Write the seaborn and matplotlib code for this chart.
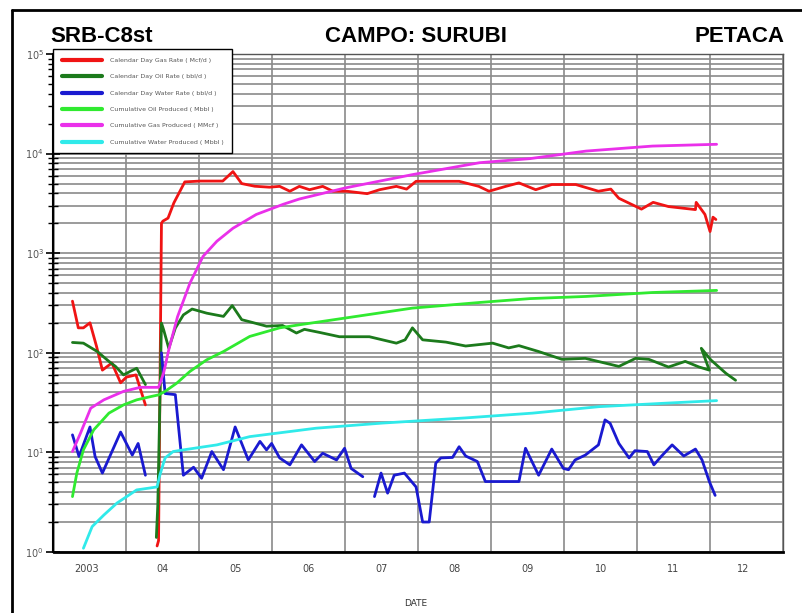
import numpy as np
import pandas as pd
import matplotlib
matplotlib.use("Agg")
import matplotlib.pyplot as plt
import seaborn as sns
from matplotlib.lines import Line2D
from matplotlib.ticker import LogLocator, NullFormatter, FixedLocator

# ---------------- data (decimal years, values) ----------------
year_ticks = list(range(2003, 2014))
year_label_pos = [2003.45, 2004.5, 2005.5, 2006.5, 2007.5, 2008.5, 2009.5, 2010.5, 2011.5, 2012.45]
year_labels = ["2003", "04", "05", "06", "07", "08", "09", "10", "11", "12"]

series_names = [
    "Calendar Day Gas Rate ( Mcf/d )",
    "Calendar Day Oil Rate ( bbl/d )",
    "Calendar Day Water Rate ( bbl/d )",
    "Cumulative Oil Produced ( Mbbl )",
    "Cumulative Gas Produced ( MMcf )",
    "Cumulative Water Produced ( Mbbl )",
]
series_colors = ["#f01414", "#1c7a1c", "#1a1ad0", "#30ea30", "#ea30ea", "#30eaea"]

# Calendar day gas rate
gas_t1 = [2003.26, 2003.34, 2003.41, 2003.50, 2003.59, 2003.67, 2003.80, 2003.92, 2004.00, 2004.13, 2004.26]
gas_v1 = [330, 178, 178, 200, 116, 67, 79, 50, 57, 60, 30]
gas_t2 = [2004.42, 2004.44, 2004.48, 2004.50, 2004.57, 2004.65, 2004.80, 2005.01, 2005.32, 2005.46,
          2005.58, 2005.76, 2005.96, 2006.10, 2006.24, 2006.37, 2006.51, 2006.69, 2006.83, 2007.02,
          2007.30, 2007.47, 2007.70, 2007.84, 2007.97, 2008.56, 2008.83, 2008.97, 2009.20, 2009.38,
          2009.61, 2009.83, 2010.16, 2010.47, 2010.64, 2010.75, 2011.06, 2011.22, 2011.43, 2011.80,
          2011.81, 2011.93, 2012.00, 2012.04, 2012.08]
gas_v2 = [1.15, 1.3, 2000, 2100, 2250, 3200, 5200, 5300, 5300, 6600,
          5000, 4700, 4600, 4690, 4190, 4690, 4340, 4690, 4190, 4190,
          3960, 4340, 4690, 4400, 5270, 5270, 4690, 4190, 4690, 5080,
          4340, 4890, 4890, 4190, 4400, 3560, 2770, 3240, 2940, 2740,
          3240, 2450, 1650, 2300, 2180]

# Calendar day oil rate
oil_t1 = [2003.26, 2003.41, 2003.60, 2003.76, 2003.85, 2003.96, 2004.05, 2004.14, 2004.26]
oil_v1 = [127, 125, 103, 82, 73, 60, 65, 70, 48]
oil_t2 = [2004.41, 2004.43, 2004.48, 2004.51, 2004.58, 2004.67, 2004.78, 2004.90, 2005.10, 2005.33,
          2005.45, 2005.58, 2005.69, 2005.92, 2006.14, 2006.33, 2006.44, 2006.65, 2006.92, 2007.33,
          2007.70, 2007.82, 2007.92, 2008.06, 2008.38, 2008.65, 2009.02, 2009.24, 2009.38, 2009.65,
          2009.97, 2010.29, 2010.75, 2010.98, 2011.16, 2011.43, 2011.66, 2011.85, 2011.99, 2011.88,
          2012.01, 2012.12, 2012.22, 2012.35]
oil_v2 = [1.4, 3, 199, 170, 111, 177, 240, 275, 250, 232,
          298, 215, 205, 185, 188, 158, 172, 160, 145, 145,
          125, 135, 178, 135, 128, 117, 125, 112, 118, 103,
          86, 88, 73, 88, 86, 72, 82, 72, 67, 111,
          85, 72, 62, 53]

# Calendar day water rate
wat_t1 = [2003.26, 2003.35, 2003.50, 2003.57, 2003.67, 2003.92, 2004.08, 2004.16, 2004.26]
wat_v1 = [15, 9.1, 18, 9.1, 6.2, 16, 9.4, 12.3, 5.9]
wat_t2 = [2004.48, 2004.53, 2004.67, 2004.78, 2004.92, 2005.03, 2005.17, 2005.33, 2005.49, 2005.67,
          2005.83, 2005.92, 2005.99, 2006.10, 2006.24, 2006.40, 2006.58, 2006.69, 2006.88, 2006.99,
          2007.08, 2007.24]
wat_v2 = [100, 39, 38, 5.9, 7.1, 5.5, 10.2, 6.7, 18, 8.4,
          12.9, 10.6, 12.3, 8.8, 7.5, 11.9, 8.1, 9.8, 8.4, 11,
          6.9, 5.7]
wat_t3 = [2007.40, 2007.49, 2007.58, 2007.67, 2007.81, 2007.97, 2008.06, 2008.15, 2008.24, 2008.31,
          2008.47, 2008.56, 2008.65, 2008.81, 2008.92, 2009.38, 2009.47, 2009.65, 2009.83, 2009.99,
          2010.06, 2010.15, 2010.29, 2010.47, 2010.56, 2010.63, 2010.75, 2010.89, 2010.97, 2011.14,
          2011.23, 2011.33, 2011.48, 2011.64, 2011.80, 2011.89, 2011.99, 2012.07]
wat_v3 = [3.6, 6.2, 3.9, 5.9, 6.2, 4.5, 2.0, 2.0, 7.8, 8.8,
          8.9, 11.4, 9.2, 8.1, 5.1, 5.1, 11, 5.9, 10.8, 6.9,
          6.7, 8.4, 9.4, 11.9, 21.2, 19.6, 12.3, 8.8, 10.4, 10.2,
          7.5, 9.1, 11.9, 9.2, 10.8, 8.4, 5.1, 3.7]

# Cumulative oil
coil_t = [2003.26, 2003.32, 2003.41, 2003.55, 2003.76, 2003.96, 2004.14, 2004.33, 2004.44, 2004.53,
          2004.69, 2004.87, 2005.10, 2005.33, 2005.69, 2006.10, 2006.37, 2007.01, 2007.92, 2008.84,
          2009.53, 2010.30, 2011.21, 2012.09]
coil_v = [3.6, 6.2, 10.6, 16.8, 24.8, 30, 33.7, 36.3, 37.8, 41,
          49.6, 65, 85, 103, 146, 178, 191, 224, 281, 320,
          350, 368, 403, 423]

# Cumulative gas
cgas_t = [2003.26, 2003.37, 2003.51, 2003.69, 2003.96, 2004.19, 2004.44, 2004.51, 2004.58, 2004.70,
          2004.87, 2005.05, 2005.24, 2005.46, 2005.78, 2006.15, 2006.37, 2007.01, 2007.92, 2008.84,
          2009.53, 2010.30, 2011.21, 2012.09]
cgas_v = [10.2, 15.6, 27.8, 33.7, 41, 45, 45, 63, 107, 230,
          500, 930, 1320, 1780, 2450, 3100, 3500, 4540, 6150, 8100,
          8900, 10600, 11900, 12400]

# Cumulative water
cwat_t = [2003.41, 2003.53, 2003.69, 2003.87, 2004.14, 2004.42, 2004.46, 2004.53, 2004.64, 2004.78,
          2005.24, 2005.69, 2006.60, 2007.51, 2008.65, 2009.57, 2010.48, 2011.39, 2012.09]
cwat_v = [1.09, 1.8, 2.35, 3.1, 4.2, 4.5, 6.0, 8.8, 10.2, 10.6,
          11.9, 14.4, 17.5, 19.7, 22.2, 24.8, 28.8, 31.2, 33.1]

# ---------------- build table ----------------
parts = [
    (series_names[0], 1, gas_t1, gas_v1), (series_names[0], 2, gas_t2, gas_v2),
    (series_names[1], 1, oil_t1, oil_v1), (series_names[1], 2, oil_t2, oil_v2),
    (series_names[2], 1, wat_t1, wat_v1), (series_names[2], 2, wat_t2, wat_v2),
    (series_names[2], 3, wat_t3, wat_v3),
    (series_names[3], 1, coil_t, coil_v),
    (series_names[4], 1, cgas_t, cgas_v),
    (series_names[5], 1, cwat_t, cwat_v),
]
frames = []
for name, seg, t, v in parts:
    frames.append(pd.DataFrame({"date": t, "value": v, "series": name, "segment": seg}))
df = pd.concat(frames, ignore_index=True)

# ---------------- figure ----------------
sns.set_theme(style="white")
plt.rcParams["font.family"] = ["DejaVu Sans"]

W, H = 803, 613
fig = plt.figure(figsize=(W / 100, H / 100), dpi=100)
ax = fig.add_axes([53.5 / W, 1 - 552 / H, (783 - 53.5) / W, (552 - 54) / H])

palette = dict(zip(series_names, series_colors))
sns.lineplot(data=df, x="date", y="value", hue="series", units="segment",
             estimator=None, sort=False, palette=palette, hue_order=series_names,
             legend=False, linewidth=2.0, ax=ax)

ax.set_yscale("log")
ax.set_ylim(1, 1e5)
ax.set_xlim(2003, 2013)

ax.yaxis.set_major_locator(LogLocator(base=10, numticks=10))
ax.yaxis.set_minor_locator(LogLocator(base=10, subs=np.arange(2, 10), numticks=20))
ax.yaxis.set_minor_formatter(NullFormatter())

ax.xaxis.set_major_locator(FixedLocator(year_ticks))
ax.set_xticks(year_ticks)
ax.set_xticklabels([""] * len(year_ticks))
ax.set_xticks(year_label_pos, minor=True)
ax.set_xticklabels(year_labels, minor=True)

ax.tick_params(axis="x", which="major", direction="inout", length=10, width=1, color="black")
ax.tick_params(axis="x", which="minor", length=0, pad=9, labelsize=7, labelcolor="#444444")
ax.tick_params(axis="y", which="major", direction="inout", length=10, width=1.2,
               color="black", labelsize=7, labelcolor="#555555", pad=2, left=True)
ax.tick_params(axis="y", which="minor", direction="inout", length=7, width=1, color="black", left=True)

ax.grid(which="major", axis="both", color="#8a8a8a", linewidth=1.2)
ax.grid(which="minor", axis="y", color="#8a8a8a", linewidth=1.2)
ax.grid(which="minor", axis="x", visible=False)
ax.set_axisbelow(True)

ax.set_xlabel("")
ax.set_ylabel("")
for side, spine in ax.spines.items():
    spine.set_visible(True)
ax.spines["left"].set_color("black")
ax.spines["left"].set_linewidth(1.5)
ax.spines["bottom"].set_color("black")
ax.spines["bottom"].set_linewidth(2)
ax.spines["top"].set_color("#555555")
ax.spines["top"].set_linewidth(1)
ax.spines["right"].set_color("#555555")
ax.spines["right"].set_linewidth(1)

# titles
title_font = ["Liberation Sans", "DejaVu Sans"]
fig.text(50 / W, 1 - 36 / H, "SRB-C8st", ha="left", va="center", fontsize=16,
         fontweight="bold", family=title_font, color="black")
fig.text(416 / W, 1 - 36 / H, "CAMPO: SURUBI", ha="center", va="center", fontsize=16,
         fontweight="bold", family=title_font, color="black")
fig.text(785 / W, 1 - 36 / H, "PETACA", ha="right", va="center", fontsize=16,
         fontweight="bold", family=title_font, color="black")
fig.text(416 / W, 1 - 603 / H, "DATE", ha="center", va="center", fontsize=6.5, color="#333333")

# legend
handles = [Line2D([0], [0], color=c, linewidth=3) for c in series_colors]
leg = fig.legend(handles, series_names, loc="upper left",
                 bbox_to_anchor=(53 / W, 1 - 49 / H), bbox_transform=fig.transFigure,
                 fontsize=4.5, handlelength=6.4, handletextpad=1.3, labelspacing=1.75,
                 borderpad=1.4, borderaxespad=0, frameon=True, fancybox=False,
                 framealpha=1, edgecolor="black", facecolor="white")
leg.get_frame().set_linewidth(1)
for t in leg.get_texts():
    t.set_color("#555555")

# outer frame (left and top edges)
fig.add_artist(Line2D([12 / W, 12 / W], [0, 1 - 10 / H], transform=fig.transFigure,
                      color="black", linewidth=2))
fig.add_artist(Line2D([12 / W, 1.0], [1 - 10 / H, 1 - 10 / H], transform=fig.transFigure,
                      color="black", linewidth=2))

fig.savefig("out.png", dpi=100)
